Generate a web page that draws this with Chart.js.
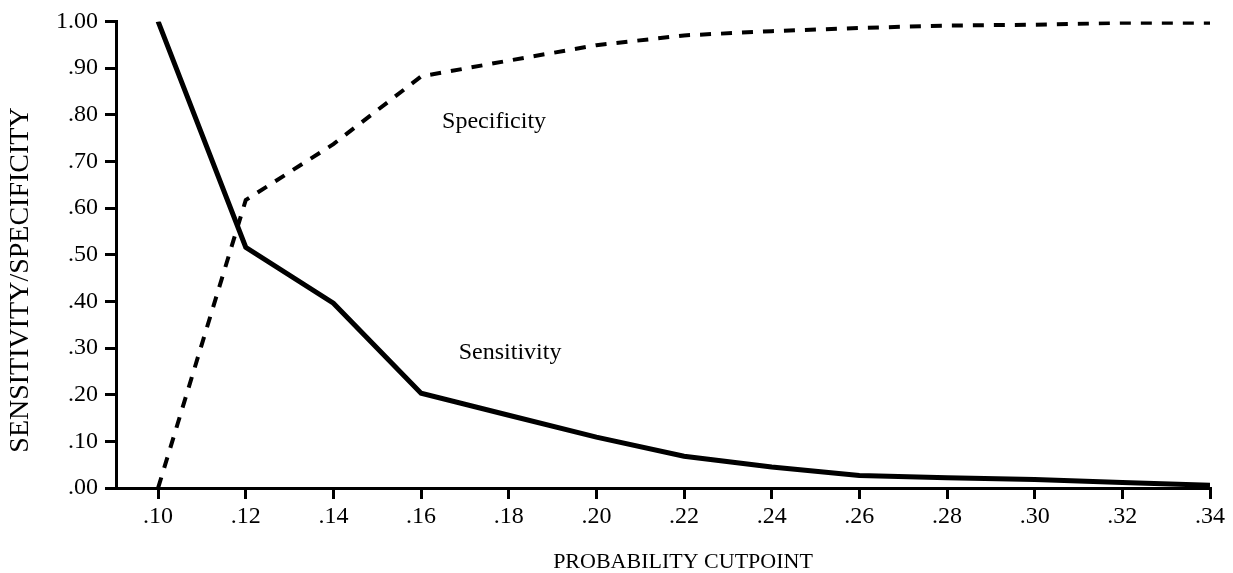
<!DOCTYPE html>
<html>
<head>
<meta charset="utf-8">
<script src="https://cdn.jsdelivr.net/npm/chart.js@4/dist/chart.umd.min.js"></script>
<style>
  html, body { margin: 0; padding: 0; background: #fff; }
  #wrap { width: 1233px; height: 573px; }
</style>
</head>
<body>
<div id="wrap"><canvas id="cutpointChart"></canvas></div>
<script>
// probability cutpoints and the two curves
const cutpoints = [0.10, 0.12, 0.14, 0.16, 0.18, 0.20, 0.22, 0.24, 0.26, 0.28, 0.30, 0.32, 0.34];
const sensitivity = [1.00, 0.516, 0.396, 0.203, 0.156, 0.109, 0.068, 0.045, 0.027, 0.022, 0.018, 0.012, 0.006];
const specificity = [0.00, 0.617, 0.737, 0.882, 0.916, 0.949, 0.970, 0.979, 0.986, 0.991, 0.993, 0.997, 0.997];

const xTickValues = [0.10, 0.12, 0.14, 0.16, 0.18, 0.20, 0.22, 0.24, 0.26, 0.28, 0.30, 0.32, 0.34];
const yTickValues = [0.0, 0.1, 0.2, 0.3, 0.4, 0.5, 0.6, 0.7, 0.8, 0.9, 1.0];

const SERIF = '"Liberation Serif", "Times New Roman", serif';

// ".10" style labels, no leading zero
const fmt = v => Number(v).toFixed(2).replace(/^0/, '');

const toPoints = ys => cutpoints.map((x, i) => ({ x: x, y: ys[i] }));

// axis titles and the in-plot curve names
const textPlugin = {
    id: 'chartText',
    afterDraw(chart) {
        const { ctx, scales } = chart;
        ctx.save();
        ctx.fillStyle = '#000';

        ctx.font = '22px ' + SERIF;
        ctx.textAlign = 'center';
        ctx.textBaseline = 'middle';
        ctx.fillText('PROBABILITY CUTPOINT', 683, 562);

        ctx.save();
        ctx.translate(21, 280);
        ctx.rotate(-Math.PI / 2);
        ctx.font = '28px ' + SERIF;
        ctx.fillText('SENSITIVITY/SPECIFICITY', 0, 0);
        ctx.restore();

        ctx.font = '24px ' + SERIF;
        ctx.textAlign = 'left';
        ctx.fillText('Specificity', scales.x.getPixelForValue(0.1648), scales.y.getPixelForValue(0.785));
        ctx.fillText('Sensitivity', scales.x.getPixelForValue(0.1686), scales.y.getPixelForValue(0.29));
        ctx.restore();
    }
};

const axisCommon = {
    type: 'linear',
    border: { display: true, color: '#000', width: 3 },
    grid: { drawOnChartArea: false, drawTicks: true, tickLength: 11, color: '#000', lineWidth: 3 },
};

new Chart(document.getElementById('cutpointChart'), {
    type: 'line',
    data: {
        datasets: [
            {
                label: 'Sensitivity',
                data: toPoints(sensitivity),
                borderColor: '#000',
                borderWidth: 5,
                pointRadius: 0,
                tension: 0,
                fill: false
            },
            {
                label: 'Specificity',
                data: toPoints(specificity),
                borderColor: '#000',
                borderWidth: 4,
                borderDash: [11, 10],
                pointRadius: 0,
                tension: 0,
                fill: false
            }
        ]
    },
    options: {
        responsive: true,
        maintainAspectRatio: false,
        animation: false,
        layout: { padding: { top: 21, right: 23, left: 0, bottom: 0 } },
        plugins: {
            legend: { display: false },
            tooltip: { enabled: false }
        },
        scales: {
            x: {
                ...axisCommon,
                min: 0.0904,
                max: 0.34,
                afterBuildTicks: scale => { scale.ticks = xTickValues.map(v => ({ value: v })); },
                afterFit: scale => { scale.height = 85; },
                ticks: {
                    color: '#000',
                    padding: 3,
                    maxRotation: 0,
                    autoSkip: false,
                    font: { family: SERIF, size: 24 },
                    callback: v => fmt(v)
                }
            },
            y: {
                ...axisCommon,
                min: 0,
                max: 1,
                afterBuildTicks: scale => { scale.ticks = yTickValues.map(v => ({ value: v })); },
                afterFit: scale => { scale.width = 116; },
                ticks: {
                    color: '#000',
                    padding: 7,
                    autoSkip: false,
                    font: { family: SERIF, size: 24 },
                    callback: v => fmt(v)
                }
            }
        }
    },
    plugins: [textPlugin]
});
</script>
</body>
</html>
